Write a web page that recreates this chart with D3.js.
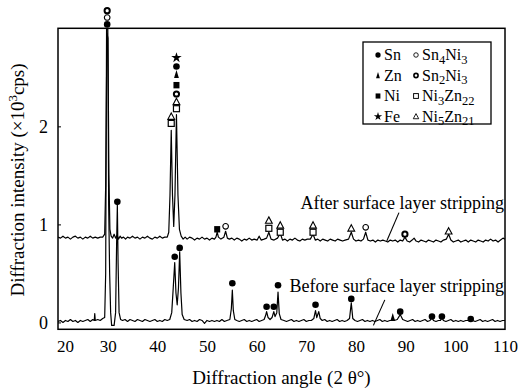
<!DOCTYPE html>
<html><head><meta charset="utf-8">
<script src="https://cdn.jsdelivr.net/npm/d3@7"></script>
<style>
body{margin:0;background:#fff}
svg{display:block}
text{font-family:"Liberation Serif","Times New Roman",serif;fill:#000}
</style>
</head><body>
<svg id="c" width="521" height="391"></svg>
<script>
// ---- data ----
const xTicks = [20,30,40,50,60,70,80,90,100,110];
const yTicks = [0,1,2];
const xDomain = [20,110];
const yDomain = [-0.07,3.0];

// intensity (x10^3 cps) vs 2θ, before stripping
const beforeTrace = [[20,0.01],[20.5,0.02],[21,0.00],[21.5,0.02],[22,0.01],[22.5,0.03],[23,0.01],[23.5,0.02],[24,0.00],[24.5,0.02],[25,0.01],[25.5,0.02],[26,0.03],[26.5,0.01],[27,0.03],[27.3,0.02],[27.4,0.09],[27.5,0.02],[28,0.03],[28.5,0.02],[29,0.04],[29.4,0.05],[29.6,0.5],[29.8,3.3],[30.0,3.3],[30.2,1.2],[30.4,0.5],[30.6,0.1],[30.8,-0.03],[31.3,-0.03],[31.6,0.1],[31.8,0.8],[31.95,1.2],[32.1,0.6],[32.3,0.1],[32.6,0.03],[33,0.02],[33.5,0.03],[34,0.01],[34.5,0.03],[35,0.02],[35.5,0.01],[36,0.03],[36.5,0.02],[37,0.01],[37.5,0.03],[38,0.02],[38.5,0.01],[39,0.02],[39.5,0.03],[40,0.01],[40.5,0.02],[41,0.01],[41.5,0.03],[42,0.02],[42.5,0.03],[42.9,0.1],[43.2,0.35],[43.5,0.61],[43.75,0.3],[44.0,0.18],[44.25,0.35],[44.5,0.72],[44.75,0.3],[45.0,0.08],[45.4,0.03],[46,0.02],[46.5,0.03],[47,0.01],[47.5,0.02],[48,0.01],[48.5,0.03],[49,0.02],[49.5,-0.01],[50,0.02],[50.5,0.01],[51,0.02],[51.5,0.01],[52,0.02],[52.5,0.01],[53,0.03],[53.5,0.01],[54,0.02],[54.6,0.03],[54.9,0.14],[55.1,0.33],[55.3,0.12],[55.6,0.03],[56,0.02],[56.5,0.01],[57,0.02],[57.5,0.03],[58,0.01],[58.5,0.02],[59,0.01],[59.5,0.02],[60,0.03],[60.5,0.01],[61,0.02],[61.5,0.03],[61.8,0.07],[62.0,0.11],[62.3,0.05],[62.7,0.03],[63.1,0.05],[63.45,0.11],[63.7,0.06],[64.05,0.1],[64.3,0.31],[64.55,0.09],[64.9,0.03],[65.5,0.02],[66,0.01],[66.5,0.02],[67,0.03],[67.5,0.01],[68,0.02],[68.5,0.01],[69,0.02],[69.5,0.03],[70,0.01],[70.5,0.02],[71,0.02],[71.5,0.04],[71.85,0.12],[72.1,0.05],[72.5,0.11],[72.8,0.04],[73.2,0.02],[73.7,0.03],[74.2,0.01],[74.7,0.02],[75.2,0.01],[75.7,0.02],[76.2,0.03],[76.7,0.01],[77.2,0.02],[77.7,0.01],[78.2,0.02],[78.7,0.04],[79.05,0.2],[79.35,0.04],[79.8,0.02],[80.3,0.01],[80.8,0.02],[81.3,0.03],[81.8,0.01],[82.3,0.02],[82.8,0.01],[83.3,0.02],[83.8,0.01],[84.3,0.02],[84.8,0.03],[85.3,0.01],[85.8,0.02],[86.3,0.01],[86.8,0.02],[87.2,0.02],[87.4,0.04],[87.7,0.02],[88.3,0.03],[88.9,0.08],[89.4,0.03],[89.9,0.02],[90.4,0.01],[90.9,0.02],[91.4,0.03],[91.9,0.01],[92.4,0.02],[92.9,0.01],[93.4,0.02],[93.9,0.03],[94.4,0.01],[94.9,0.02],[95.3,0.05],[95.6,0.02],[96.1,0.01],[96.6,0.02],[97.0,0.02],[97.3,0.05],[97.6,0.02],[98.1,0.01],[98.6,0.02],[99.1,0.03],[99.6,0.01],[100.1,0.02],[100.6,0.01],[101.1,0.02],[101.6,0.01],[102.1,0.02],[102.6,0.02],[103.1,0.04],[103.5,0.02],[104,0.01],[104.5,0.02],[105,0.03],[105.5,0.01],[106,0.02],[106.5,0.01],[107,0.02],[107.5,0.03],[108,0.01],[108.5,0.02],[109,0.01],[109.5,0.02],[110,0.02]];

// intensity vs 2θ, after stripping
const afterTrace = [[20,0.87],[20.5,0.86],[21,0.88],[21.5,0.86],[22,0.87],[22.5,0.85],[23,0.87],[23.5,0.88],[24,0.86],[24.5,0.87],[25,0.85],[25.5,0.87],[26,0.86],[26.5,0.88],[27,0.86],[27.5,0.87],[28,0.86],[28.5,0.87],[29,0.87],[29.4,0.9],[29.6,1.4],[29.85,2.95],[30.05,2.9],[30.25,1.5],[30.45,0.95],[30.7,0.88],[31.0,0.86],[31.3,0.9],[31.6,0.86],[31.9,0.89],[32.2,0.85],[32.5,0.88],[32.8,0.86],[33.2,0.87],[33.6,0.85],[34,0.87],[34.5,0.86],[35,0.88],[35.5,0.86],[36,0.87],[36.5,0.85],[37,0.87],[37.5,0.86],[38,0.88],[38.5,0.86],[39,0.85],[39.5,0.87],[40,0.86],[40.5,0.88],[41,0.86],[41.5,0.87],[42,0.87],[42.3,0.92],[42.55,1.3],[42.8,1.96],[43.05,1.3],[43.3,0.98],[43.55,1.3],[43.85,2.12],[44.15,1.3],[44.45,0.95],[44.8,0.88],[45.2,0.85],[45.6,0.87],[46,0.85],[46.5,0.87],[47,0.86],[47.5,0.84],[48,0.86],[48.5,0.85],[49,0.87],[49.5,0.85],[50,0.86],[50.5,0.84],[51,0.86],[51.5,0.85],[51.8,0.87],[52.05,0.92],[52.3,0.87],[52.8,0.85],[53.4,0.87],[53.75,0.93],[54.1,0.86],[54.5,0.85],[55,0.86],[55.5,0.84],[56,0.86],[56.5,0.85],[57,0.83],[57.5,0.85],[58,0.84],[58.5,0.86],[59,0.84],[59.5,0.85],[60.1,0.84],[60.5,0.88],[60.9,0.84],[61.5,0.85],[62.0,0.86],[62.45,0.92],[62.9,0.85],[63.5,0.84],[64.2,0.86],[64.75,0.91],[65.2,0.84],[65.7,0.85],[66.2,0.83],[66.7,0.85],[67.2,0.84],[67.7,0.86],[68.2,0.84],[68.7,0.83],[69.2,0.85],[69.7,0.84],[70.2,0.85],[70.8,0.85],[71.35,0.9],[71.8,0.84],[72.3,0.85],[72.8,0.83],[73.3,0.85],[73.8,0.84],[74.3,0.83],[74.8,0.85],[75.3,0.84],[75.8,0.83],[76.3,0.85],[76.8,0.84],[77.3,0.83],[77.8,0.84],[78.5,0.85],[79.05,0.92],[79.5,0.85],[80,0.83],[80.5,0.84],[81,0.83],[81.5,0.85],[81.95,0.92],[82.4,0.84],[82.9,0.83],[83.4,0.84],[83.9,0.82],[84.4,0.84],[84.9,0.83],[85.4,0.84],[85.9,0.83],[86.4,0.82],[86.9,0.84],[87.4,0.83],[87.9,0.84],[88.4,0.82],[88.9,0.84],[89.4,0.83],[89.85,0.87],[90.3,0.83],[90.8,0.82],[91.3,0.84],[91.7,0.86],[92.1,0.83],[92.6,0.82],[93.1,0.84],[93.6,0.83],[94.1,0.82],[94.6,0.84],[95.1,0.83],[95.6,0.82],[96.1,0.84],[96.6,0.83],[97.1,0.82],[97.6,0.84],[98.2,0.85],[98.65,0.9],[99.1,0.84],[99.6,0.82],[100.1,0.83],[100.6,0.84],[101.1,0.82],[101.6,0.83],[102.1,0.84],[102.6,0.82],[103.1,0.84],[103.6,0.83],[104.1,0.82],[104.6,0.84],[105.1,0.83],[105.6,0.82],[106.1,0.84],[106.6,0.83],[107.1,0.85],[107.6,0.83],[108.1,0.84],[108.6,0.82],[109.1,0.84],[109.6,0.86],[110,0.85]];

// phase markers: [2θ, level, phase]
const peakMarks = [
 [29.9,3.18,'Sn2Ni3'],[29.9,3.11,'Sn4Ni3'],[29.9,3.04,'Sn'],
 [31.95,1.23,'Sn'],
 [42.8,2.10,'Ni5Zn21'],[42.8,2.03,'Ni3Zn22'],
 [43.85,2.70,'Fe'],[43.85,2.61,'Sn'],[43.85,2.53,'Zn'],[43.85,2.42,'Ni'],[43.85,2.33,'Sn2Ni3'],[43.85,2.25,'Ni5Zn21'],[43.85,2.18,'Ni3Zn22'],
 [43.5,0.67,'Sn'],[44.5,0.76,'Sn'],[55.1,0.40,'Sn'],
 [62.0,0.16,'Sn'],[63.45,0.16,'Sn'],[64.3,0.38,'Sn'],
 [71.85,0.18,'Sn'],[79.05,0.24,'Sn'],[87.4,0.05,'Zn'],[88.9,0.11,'Sn'],
 [95.3,0.06,'Sn'],[97.3,0.06,'Sn'],[103.1,0.035,'Sn'],
 [52.05,0.95,'Ni'],[53.75,0.98,'Sn4Ni3'],
 [62.45,1.04,'Ni5Zn21'],[62.45,0.96,'Ni3Zn22'],
 [64.75,0.99,'Ni5Zn21'],[64.75,0.92,'Ni3Zn22'],
 [71.35,0.99,'Ni5Zn21'],[71.35,0.92,'Ni3Zn22'],
 [79.05,0.96,'Ni5Zn21'],[81.95,0.97,'Sn4Ni3'],[89.85,0.90,'Sn2Ni3'],[98.65,0.93,'Ni5Zn21']
];

const legendCol1 = [['Sn',[['Sn',0]]],['Zn',[['Zn',0]]],['Ni',[['Ni',0]]],['Fe',[['Fe',0]]]];
const legendCol2 = [['Sn4Ni3',[['Sn',0],['4',1],['Ni',0],['3',1]]],['Sn2Ni3',[['Sn',0],['2',1],['Ni',0],['3',1]]],
                    ['Ni3Zn22',[['Ni',0],['3',1],['Zn',0],['22',1]]],['Ni5Zn21',[['Ni',0],['5',1],['Zn',0],['21',1]]]];

const annotations = [
 {text:'After surface layer stripping', tx:110, ty:1.16, from:[88.65,1.12], to:[86.2,0.83]},
 {text:'Before surface layer stripping', tx:110, ty:0.31, from:[85.8,0.23], to:[83.5,-0.03]}
];

// ---- drawing ----
const svg = d3.select('#c');
const L=58,R=505,T=28.3,B=329.3;
const x = d3.scaleLinear().domain(xDomain).range([L,R]);
const y = d3.scaleLinear().domain(yDomain).range([B,T]);

svg.append('defs').append('clipPath').attr('id','pc').append('rect')
  .attr('x',L).attr('y',T).attr('width',R-L).attr('height',B-T);

const line = d3.line().x(d=>x(d[0])).y(d=>y(d[1]));
const gTr = svg.append('g').attr('clip-path','url(#pc)');
[beforeTrace,afterTrace].forEach(tr=>{
  gTr.append('path').datum(tr).attr('d',line).attr('fill','none')
    .attr('stroke','#000').attr('stroke-width',1.2).attr('stroke-linejoin','round');
});

// frame
svg.append('rect').attr('x',L).attr('y',T).attr('width',R-L).attr('height',B-T)
  .attr('fill','none').attr('stroke','#000').attr('stroke-width',1.5);

// axes
const xa = svg.append('g').attr('transform',`translate(0,${B})`)
  .call(d3.axisBottom(x).tickValues(xTicks).tickSize(0).tickPadding(11).tickFormat(d3.format('d')));
xa.select('.domain').remove();
xa.selectAll('text').attr('font-size',17).attr('font-family','Liberation Serif')
  .attr('dx',(d,i)=>i===0?7:0);

const ya = svg.append('g').attr('transform',`translate(${L},0)`)
  .call(d3.axisLeft(y).tickValues(yTicks).tickSize(-3).tickPadding(10).tickFormat(d3.format('d')));
ya.select('.domain').remove();
ya.selectAll('line').attr('stroke','#000').attr('stroke-width',1);
ya.selectAll('text').attr('font-size',18).attr('font-family','Liberation Serif');

// titles
svg.append('text').attr('x',(L+R)/2).attr('y',384).attr('text-anchor','middle')
  .attr('font-size',19).text('Diffraction angle (2 θ°)');
const yt = svg.append('text').attr('transform','translate(24,180) rotate(-90)')
  .attr('text-anchor','middle').attr('font-size',19);
yt.append('tspan').text('Diffraction intensity (×10');
yt.append('tspan').attr('dy',-7).attr('font-size',13).text('3');
yt.append('tspan').attr('dy',7).text('cps)');

// symbols
function sym(g, type, cx, cy, s){
  s = s||1;
  const gg = g.append('g').attr('transform',`translate(${cx},${cy}) scale(${s})`);
  switch(type){
    case 'Sn': gg.append('circle').attr('r',3.3).attr('fill','#000'); break;
    case 'Zn': gg.append('path').attr('d','M0,-4.5L2.4,3.5L-2.4,3.5Z').attr('fill','#000'); break;
    case 'Ni': gg.append('rect').attr('x',-3).attr('y',-3.2).attr('width',6).attr('height',6.4).attr('fill','#000'); break;
    case 'Fe': gg.append('path').attr('d',d3.symbol(d3.symbolStar,34)()).attr('fill','#000'); break;
    case 'Sn4Ni3': gg.append('circle').attr('r',2.8).attr('fill','#fff').attr('stroke','#000').attr('stroke-width',1.1); break;
    case 'Sn2Ni3': gg.append('circle').attr('r',2.6).attr('fill','#fff').attr('stroke','#000').attr('stroke-width',2); break;
    case 'Ni3Zn22': gg.append('rect').attr('x',-3).attr('y',-3).attr('width',6).attr('height',6).attr('fill','#fff').attr('stroke','#000').attr('stroke-width',1.2); break;
    case 'Ni5Zn21': gg.append('path').attr('d','M0,-3.6L3.4,2.8L-3.4,2.8Z').attr('fill','#fff').attr('stroke','#000').attr('stroke-width',1.1); break;
  }
}
const gm = svg.append('g');
peakMarks.forEach(m=>sym(gm,m[2],x(m[0]),y(m[1])));

// annotations
annotations.forEach(a=>{
  svg.append('text').attr('x',x(a.tx)-1).attr('y',y(a.ty)).attr('text-anchor','end')
    .attr('font-size',18).text(a.text);
  svg.append('line').attr('x1',x(a.from[0])).attr('y1',y(a.from[1]))
    .attr('x2',x(a.to[0])).attr('y2',y(a.to[1])).attr('stroke','#000').attr('stroke-width',1.1);
});

// legend
const lg = svg.append('g');
lg.append('rect').attr('x',363).attr('y',42).attr('width',128).attr('height',82)
  .attr('fill','#fff').attr('stroke','#000').attr('stroke-width',1.3);
function richText(g, xx, yy, parts){
  const t = g.append('text').attr('x',xx).attr('y',yy).attr('font-size',16);
  let sub=false;
  parts.forEach(p=>{
    const ts = t.append('tspan').text(p[0]);
    if(p[1] && !sub){ ts.attr('dy',3.5).attr('font-size',12.5); sub=true; }
    else if(!p[1] && sub){ ts.attr('dy',-3.5); sub=false; }
    else if(p[1]) ts.attr('font-size',12.5);
  });
}
const rowY = [55,75.5,96,116.5];
legendCol1.forEach((d,i)=>{ sym(lg,d[0],378,rowY[i],0.8); richText(lg,384,rowY[i]+5,d[1]); });
legendCol2.forEach((d,i)=>{ sym(lg,d[0],416,rowY[i],0.8); richText(lg,422,rowY[i]+5,d[1]); });
</script>
</body></html>
